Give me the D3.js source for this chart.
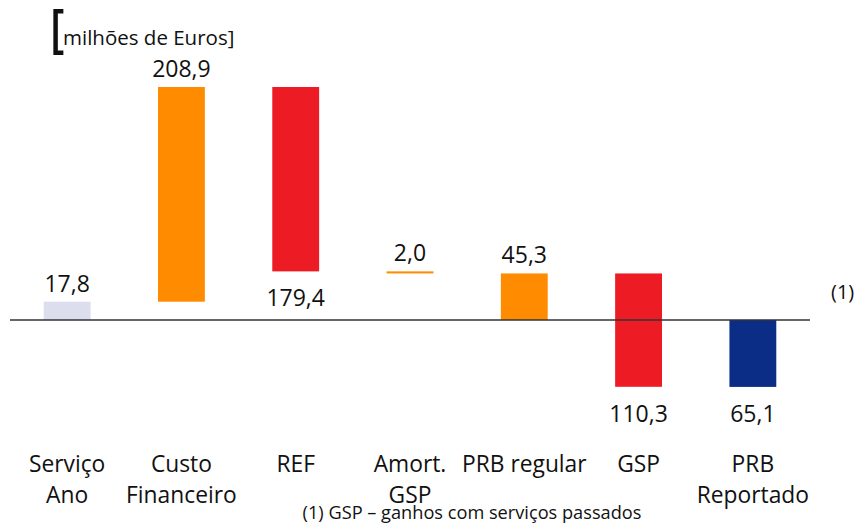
<!DOCTYPE html>
<html>
<head>
<meta charset="utf-8">
<script src="https://cdn.jsdelivr.net/npm/d3@7"></script>
<style>
  html, body { margin: 0; padding: 0; background: #fff; }
  svg { display: block; font-family: "Open Sans", "Noto Sans", sans-serif; }
</style>
</head>
<body>
<svg id="chart" width="856" height="527"></svg>
<script>
// Waterfall: cost of pension plan (PRB), million euros
const categories = [
  ["Serviço", "Ano"],
  ["Custo", "Financeiro"],
  ["REF"],
  ["Amort.", "GSP"],
  ["PRB regular"],
  ["GSP"],
  ["PRB", "Reportado"]
];
const values = [17.8, 208.9, -179.4, -2.0, 45.3, -110.3, -65.1];
// "total" bars start at zero, "delta" bars float from the running sum
const kinds = ["total", "delta", "delta", "delta", "total", "delta", "total"];
const colors = ["#dcdded", "#ff8c00", "#ed1c24", "#ff8c00", "#ff8c00", "#ed1c24", "#0b2d85"];
const labelSide = ["above", "above", "below", "above", "above", "below", "below"];

const unitTitle = "milhões de Euros]";
const footnote = "(1) GSP – ganhos com serviços passados";
const noteMark = "(1)";

const ptFormat = d3.formatLocale({ decimal: ",", thousands: ".", grouping: [3], currency: ["", " €"] }).format(".1f");

// Build start / end of every bar
let running = 0;
const bars = values.map((v, i) => {
  let start, end;
  if (kinds[i] === "total") { start = 0; end = v; }
  else { start = running; end = running + v; }
  running = end;
  return { i, v, start, end, lo: Math.min(start, end), hi: Math.max(start, end) };
});

const svg = d3.select("#chart");

const x = d3.scaleBand().domain(d3.range(categories.length)).range([10, 810]).padding(0);
const barW = x.bandwidth() * 0.41;
const y = d3.scaleLinear()
  .domain([0, d3.max(bars, b => b.hi)])
  .range([320, 87]);

const cx = i => x(i) + x.bandwidth() / 2;

// Bars
svg.append("g").selectAll("rect").data(bars).join("rect")
  .attr("x", d => cx(d.i) - barW / 2)
  .attr("y", d => y(d.hi))
  .attr("width", barW)
  .attr("height", d => Math.max(2, y(d.lo) - y(d.hi)))
  .attr("fill", d => colors[d.i]);

// Zero line
svg.append("line")
  .attr("x1", 10).attr("x2", 810)
  .attr("y1", y(0)).attr("y2", y(0))
  .attr("stroke", "#333").attr("stroke-width", 1.5);

// Value labels
svg.append("g").selectAll("text").data(bars).join("text")
  .attr("x", d => cx(d.i))
  .attr("y", d => labelSide[d.i] === "above" ? y(d.hi) - 10 : y(d.lo) + 35)
  .attr("text-anchor", "middle")
  .attr("font-size", 23)
  .attr("fill", "#111")
  .text(d => ptFormat(Math.abs(d.v)));

// Category labels
const cat = svg.append("g").selectAll("text").data(categories).join("text")
  .attr("text-anchor", "middle")
  .attr("font-size", 22.8)
  .attr("fill", "#111");
cat.each(function(lines, i) {
  d3.select(this).selectAll("tspan").data(lines).join("tspan")
    .attr("x", cx(i))
    .attr("y", (d, k) => 472 + k * 31)
    .text(d => d);
});

// Unit title with a tall opening bracket
svg.append("text")
  .attr("transform", "translate(50,47) scale(1,1.2)")
  .attr("font-size", 44)
  .attr("font-weight", 600)
  .attr("fill", "#111")
  .text("[");
svg.append("text")
  .attr("x", 63).attr("y", 45)
  .attr("font-size", 20.5)
  .attr("fill", "#111")
  .text(unitTitle);

// Footnote marker and footnote
svg.append("text")
  .attr("x", 831).attr("y", 299)
  .attr("font-size", 20)
  .attr("fill", "#111")
  .text(noteMark);
svg.append("text")
  .attr("x", 472).attr("y", 519)
  .attr("text-anchor", "middle")
  .attr("font-size", 18.2)
  .attr("fill", "#111")
  .text(footnote);
</script>
</body>
</html>
